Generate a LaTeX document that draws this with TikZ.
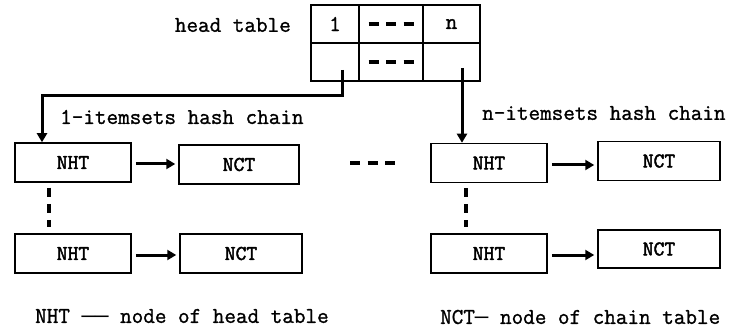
\documentclass[tikz,border=0pt]{standalone}
\usepackage{fontspec}
\newfontfamily\reftt{Latin Modern Mono}[FakeBold=1.2]
\newfontfamily\boxtt{Latin Modern Mono}[FakeBold=2]
\newfontfamily\dashtt{Liberation Mono}
\usetikzlibrary{arrows.meta}
\begin{document}
\begin{tikzpicture}[x=1pt,y=-1pt,
  txt/.style={font=\reftt\fontsize{22.5}{22.5}\selectfont, inner sep=0pt},
  cell/.style={draw, line width=1.5pt, minimum height=38pt, inner sep=0pt, font=\reftt\fontsize{22.5}{22.5}\selectfont},
  box/.style={draw, line width=1.5pt, minimum width=116pt, minimum height=39pt, inner sep=0pt, font=\boxtt\fontsize{21}{21}\selectfont},
  link/.style={line width=3pt, -{Triangle[length=9pt,width=10pt]}},
  thickdash/.style={line width=3.5pt, dash pattern=on 10pt off 7.5pt},
  vdash/.style={line width=3.5pt, dash pattern=on 9pt off 7pt}
]
\useasboundingbox (0,0) rectangle (741,331);
% head table
\node[cell, minimum width=48pt] (c1t) at (335,24) {1};
\node[cell, minimum width=64pt] (cmt) at (391,24) {};
\node[cell, minimum width=57pt] (cnt) at (451.5,24) {n};
\node[cell, minimum width=48pt] (c1b) at (335,62) {};
\node[cell, minimum width=64pt] (cmb) at (391,62) {};
\node[cell, minimum width=57pt] (cnb) at (451.5,62) {};
\draw[thickdash] ([xshift=-22.5pt]cmt.center) -- ([xshift=22.5pt]cmt.center);
\draw[thickdash] ([xshift=-22.5pt]cmb.center) -- ([xshift=22.5pt]cmb.center);
\node[txt, anchor=east] (ht) at (291,25) {head table};
% left chain
\node[box] (nhtA1) at (73,162.5) {NHT};
\node[box, minimum width=120pt] (nctA1) at (239,164.5) {NCT};
\node[box] (nhtA2) at (73,253.5) {NHT};
\node[box, minimum width=122pt] (nctA2) at (241,253.5) {NCT};
% right chain
\node[box] (nhtB1) at (489,163) {NHT};
\node[box, minimum width=122pt] (nctB1) at (659,161) {NCT};
\node[box] (nhtB2) at (489,253.5) {NHT};
\node[box, minimum width=122pt, minimum height=38pt] (nctB2) at (659,249) {NCT};
% head table links
\coordinate (s1) at (342,70);
\coordinate (sn) at (462,68);
\draw[link] (s1) -- ++(0,26) -| ([xshift=-31pt]nhtA1.north);
\draw[link] (sn) -- ([xshift=-27pt]nhtB1.north);
% horizontal links
\draw[link, shorten <=4pt, shorten >=3pt] ([yshift=-1.5pt]nhtA1.east) -- ([yshift=-1.5pt]nhtA1.east -| nctA1.west);
\draw[link, shorten <=4pt, shorten >=3pt] ([yshift=-1.5pt]nhtA2.east) -- ([yshift=-1.5pt]nhtA2.east -| nctA2.west);
\draw[link, shorten <=4pt, shorten >=3pt] ([yshift=-2pt]nhtB1.east) -- ([yshift=-2pt]nhtB1.east -| nctB1.west);
\draw[link, shorten <=4pt, shorten >=3pt] ([yshift=-1.5pt]nhtB2.east) -- ([yshift=-1.5pt]nhtB2.east -| nctB2.west);
% vertical dashed
\draw[vdash, shorten <=5pt, shorten >=6pt] ([xshift=-24pt]nhtA1.south) -- ([xshift=-24pt]nhtA2.north);
\draw[vdash, shorten <=5pt, shorten >=6pt] ([xshift=-23pt]nhtB1.south) -- ([xshift=-23pt]nhtB2.north);
% middle dashes
\coordinate (dm1) at (350,163);
\coordinate (dm2) at (395,163);
\draw[thickdash] (dm1) -- (dm2);
% labels
\node[txt, anchor=west] (l1) at (60,117) {1-itemsets hash chain};
\node[txt, anchor=west] (ln) at (482,113) {n-itemsets hash chain};
\node[txt, anchor=west] (leg1) at (35,316) {NHT {\dashtt ——} node of head table};
\node[txt, anchor=west] (leg2) at (440,317) {NCT{\dashtt —} node of chain table};
\end{tikzpicture}
\end{document}
